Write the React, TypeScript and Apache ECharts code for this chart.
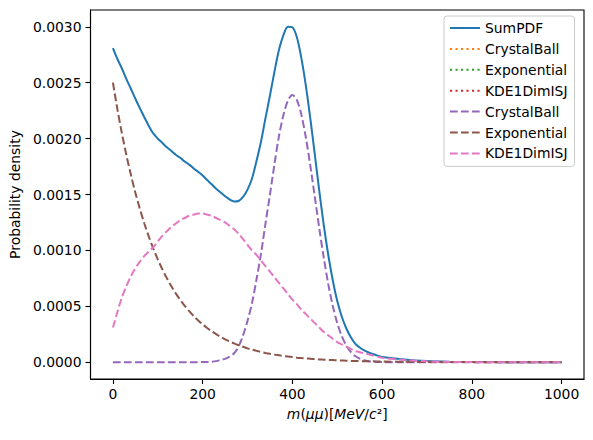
import React, { useEffect, useRef } from "react";
import * as echarts from "echarts";

// Sample positions along m(μμ) in MeV/c²
const xs = [
  0, 10, 20, 30, 40, 50, 60, 70, 80, 90,
  100, 110, 120, 130, 140, 150, 160, 170, 180, 190,
  200, 210, 220, 230, 240, 250, 260, 270, 280, 290,
  300, 310, 320, 330, 340, 350, 360, 370, 380, 390,
  400, 410, 420, 430, 440, 450, 460, 470, 480, 490,
  500, 510, 520, 530, 540, 550, 560, 570, 580, 590,
  600, 650, 700, 750, 800, 850, 900, 950, 1000,
];

const sumPdf = [
  0.00281, 0.002712, 0.002627, 0.002532, 0.002446, 0.002356, 0.002272, 0.002191, 0.002113, 0.002046,
  0.002, 0.001962, 0.001923, 0.001891, 0.001856, 0.001828, 0.001795, 0.001767, 0.001733, 0.001704,
  0.00167, 0.001629, 0.001592, 0.001551, 0.001517, 0.001485, 0.001456, 0.001438, 0.001442, 0.001478,
  0.001544, 0.001643, 0.0018, 0.001972, 0.002183, 0.002385, 0.002598, 0.002792, 0.002926, 0.003001,
  0.002996, 0.002906, 0.00272, 0.002474, 0.002178, 0.001856, 0.001531, 0.001225, 0.000959, 0.000733,
  0.000547, 0.000409, 0.000304, 0.000225, 0.000166, 0.000132, 0.000106, 0.000087, 0.000073, 0.000059,
  0.000047, 0.000024, 0.00001, 0.000004, 0.000002, 0.000001, 0, 0, 0,
];

const crystalBall = [
  0, 0, 0, 0, 0, 0, 0, 0, 0, 0,
  0, 0, 0, 0, 0, 0, 0, 0, 0, 0.000001,
  0.000002, 0.000003, 0.000005, 0.00001, 0.00002, 0.00003, 0.00005, 0.00008, 0.00014, 0.00024,
  0.00037, 0.00053, 0.00074, 0.00097, 0.00124, 0.0015, 0.00177, 0.00202, 0.00221, 0.00234,
  0.00239, 0.002345, 0.002213, 0.00201, 0.001757, 0.001478, 0.001196, 0.000932, 0.000698, 0.000504,
  0.00035, 0.000234, 0.00015, 0.000093, 0.000055, 0.000032, 0.000017, 0.000009, 0.000005, 0.000002,
  0.000001, 0, 0, 0, 0, 0, 0, 0, 0,
];

const exponential = [
  0.0025, 0.002262, 0.002047, 0.001852, 0.001676, 0.001516, 0.001372, 0.001241, 0.001123, 0.001016,
  0.00092, 0.000832, 0.000753, 0.000681, 0.000616, 0.000558, 0.000505, 0.000457, 0.000413, 0.000374,
  0.000338, 0.000306, 0.000277, 0.000251, 0.000227, 0.000205, 0.000186, 0.000168, 0.000152, 0.000138,
  0.000124, 0.000113, 0.000102, 0.000092, 0.000083, 0.000075, 0.000068, 0.000062, 0.000056, 0.000051,
  0.000046, 0.000041, 0.000037, 0.000034, 0.000031, 0.000028, 0.000025, 0.000023, 0.000021, 0.000019,
  0.000017, 0.000015, 0.000014, 0.000012, 0.000011, 0.00001, 0.000009, 0.000008, 0.000008, 0.000007,
  0.000006, 0.000004, 0.000002, 0.000001, 0.000001, 0, 0, 0, 0,
];

const kde = [
  0.00031, 0.00045, 0.00058, 0.00068, 0.00077, 0.00084, 0.0009, 0.00095, 0.00099, 0.00103,
  0.00108, 0.00113, 0.00117, 0.00121, 0.00124, 0.00127, 0.00129, 0.00131, 0.00132, 0.00133,
  0.00133, 0.00132, 0.00131, 0.00129, 0.00127, 0.00125, 0.00122, 0.00119, 0.00115, 0.0011,
  0.00105, 0.001, 0.00096, 0.00091, 0.00086, 0.00081, 0.00076, 0.00071, 0.00066, 0.00061,
  0.00056, 0.00052, 0.00047, 0.00043, 0.00039, 0.00035, 0.00031, 0.00027, 0.00024, 0.00021,
  0.00018, 0.00016, 0.00014, 0.00012, 0.0001, 0.00009, 0.00008, 0.00007, 0.00006, 0.00005,
  0.00004, 0.00002, 0.000008, 0.000003, 0.000001, 0, 0, 0, 0,
];

const xTicks = [0, 200, 400, 600, 800, 1000];
const yTicks = [0, 0.0005, 0.001, 0.0015, 0.002, 0.0025, 0.003];

const FONT = "DejaVu Sans";
const FS = 13.9;
const DASHED = [7.7, 3.3];
const DOTTED = [2.1, 3.4];

const pairs = (ys: number[]) => xs.map((x, i) => [x, ys[i]]);

type Line = { name: string; label: string; color: string; dash: number[] | "solid"; data: number[][] };

const lines: Line[] = [
  { name: "SumPDF", label: "SumPDF", color: "#1f77b4", dash: "solid", data: pairs(sumPdf) },
  { name: "CrystalBall|unscaled", label: "CrystalBall", color: "#ff7f0e", dash: DOTTED, data: [] },
  { name: "Exponential|unscaled", label: "Exponential", color: "#2ca02c", dash: DOTTED, data: [] },
  { name: "KDE1DimISJ|unscaled", label: "KDE1DimISJ", color: "#d62728", dash: DOTTED, data: [] },
  { name: "CrystalBall|scaled", label: "CrystalBall", color: "#9467bd", dash: DASHED, data: pairs(crystalBall) },
  { name: "Exponential|scaled", label: "Exponential", color: "#8c564b", dash: DASHED, data: pairs(exponential) },
  { name: "KDE1DimISJ|scaled", label: "KDE1DimISJ", color: "#e377c2", dash: DASHED, data: pairs(kde) },
];

export default function App() {
  const ref = useRef<HTMLDivElement>(null);

  useEffect(() => {
    if (!ref.current) return;
    const chart = echarts.init(ref.current, undefined, { renderer: "svg" });
    const labelOf: Record<string, string> = {};
    lines.forEach((l) => (labelOf[l.name] = l.label));

    chart.setOption({
      animation: false,
      backgroundColor: "#ffffff",
      textStyle: { fontFamily: FONT },
      grid: {
        left: 88,
        top: 10,
        width: 496,
        height: 369,
        show: true,
        borderColor: "#000000",
        borderWidth: 1.1,
        backgroundColor: "transparent",
      },
      xAxis: {
        type: "value",
        min: -50,
        max: 1050,
        axisLine: { show: true, onZero: false, lineStyle: { color: "#000", width: 1.1 } },
        axisTick: { show: true, customValues: xTicks, length: 5, lineStyle: { color: "#000", width: 1.1 } },
        axisLabel: {
          customValues: xTicks,
          margin: 8,
          color: "#000",
          fontSize: FS,
          fontFamily: FONT,
          formatter: (v: number) => String(v),
        },
        splitLine: { show: false },
        name: "{i|m}{n|(}{i|μμ}{n|)[}{i|MeV}{n|/}{i|c}{n|²}{n|]}",
        nameLocation: "middle",
        nameGap: 28,
        nameTextStyle: {
          color: "#000",
          rich: {
            i: { fontFamily: FONT, fontSize: FS, fontStyle: "italic", color: "#000" },
            n: { fontFamily: FONT, fontSize: FS, color: "#000" },
          },
        },
      },
      yAxis: {
        type: "value",
        min: -0.00015,
        max: 0.00315,
        axisLine: { show: true, onZero: false, lineStyle: { color: "#000", width: 1.1 } },
        axisTick: { show: true, customValues: yTicks, length: 5, lineStyle: { color: "#000", width: 1.1 } },
        axisLabel: {
          customValues: yTicks,
          margin: 9,
          color: "#000",
          fontSize: FS,
          fontFamily: FONT,
          formatter: (v: number) => v.toFixed(4),
        },
        splitLine: { show: false },
        name: "Probability density",
        nameLocation: "middle",
        nameRotate: 90,
        nameGap: 64,
        nameTextStyle: { color: "#000", fontSize: FS, fontFamily: FONT },
      },
      legend: {
        orient: "vertical",
        left: 444,
        top: 16,
        align: "left",
        itemWidth: 30,
        itemHeight: 14,
        itemGap: 6.9,
        itemTextGap: 11,
        padding: [5, 7, 6, 5],
        backgroundColor: "rgba(255,255,255,0.8)",
        borderColor: "#cccccc",
        borderWidth: 1,
        borderRadius: 3,
        itemStyle: { opacity: 0 },
        textStyle: { fontSize: FS, color: "#000", fontFamily: FONT },
        formatter: (n: string) => labelOf[n] ?? n,
        data: lines.map((l) => l.name),
      },
      series: lines.map((l) => ({
        type: "line",
        name: l.name,
        data: l.data,
        color: l.color,
        symbol: "none",
        showSymbol: false,
        smooth: 0.3,
        lineStyle: { color: l.color, width: 2, type: l.dash, cap: "butt" },
        emphasis: { disabled: true },
      })),
    });

    return () => chart.dispose();
  }, []);

  return <div ref={ref} style={{ width: 593, height: 440, position: "absolute", left: 0, top: 0 }} />;
}
